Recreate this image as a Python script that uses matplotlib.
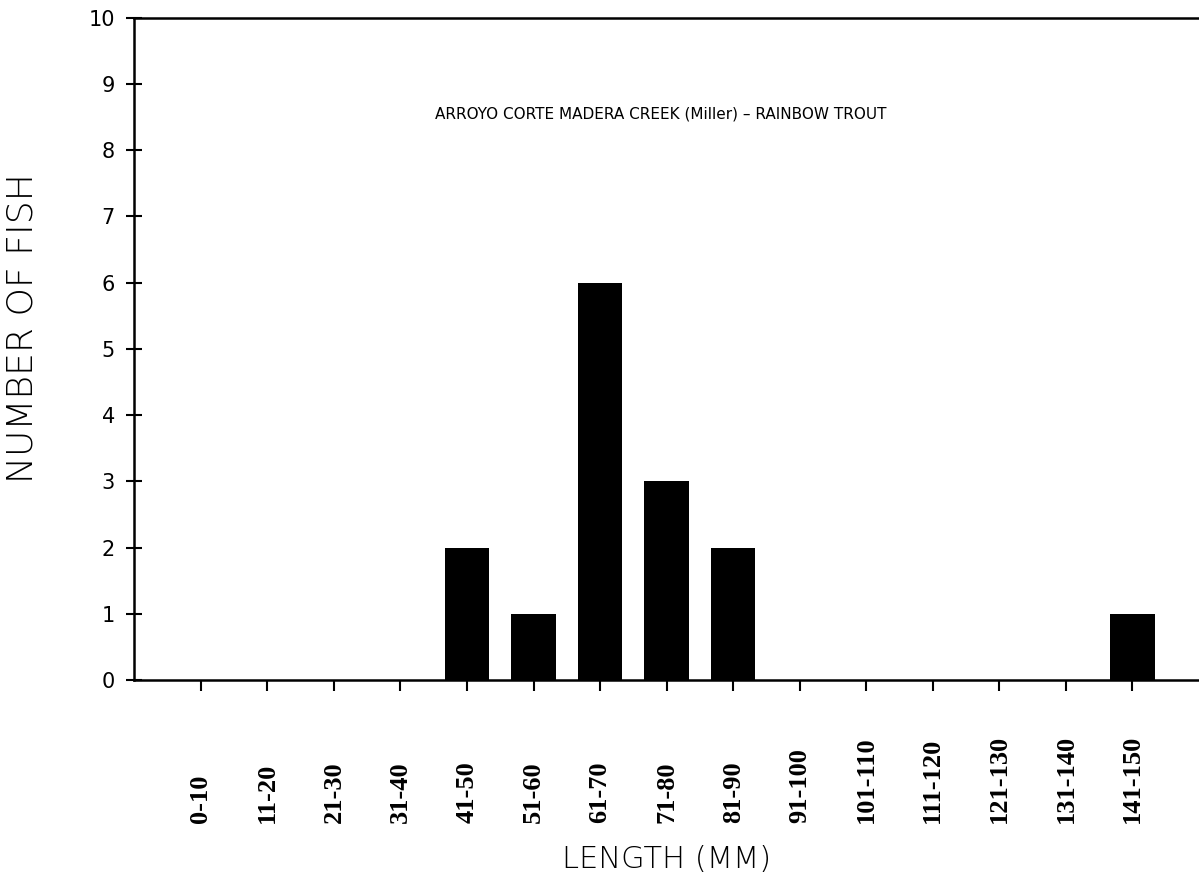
import numpy as np
import matplotlib
matplotlib.use("Agg")
import matplotlib.pyplot as plt

categories = ["0-10", "11-20", "21-30", "31-40", "41-50", "51-60", "61-70",
              "71-80", "81-90", "91-100", "101-110", "111-120", "121-130",
              "131-140", "141-150"]
counts = [0, 0, 0, 0, 2, 1, 6, 3, 2, 0, 0, 0, 0, 0, 1]

fig = plt.figure(figsize=(11.99, 8.88), dpi=100)
ax = fig.add_axes([0.112, 0.234, 0.888, 0.746])

x = np.arange(len(categories))
ax.bar(x, counts, width=0.67, color="black")

ax.set_xlim(-1, 15)
ax.set_ylim(0, 10)
ax.set_yticks(range(0, 11))
ax.set_xticks(x)
ax.set_xticklabels(categories, rotation=90, family="Liberation Serif",
                   fontweight="bold", fontsize=19)
for lab in ax.get_xticklabels():
    lab.set_va("bottom")

ax.tick_params(axis="x", direction="out", length=8, width=1.5, pad=95)
ax.tick_params(axis="y", direction="inout", length=12, width=1.5, pad=8,
               labelsize=15)
for lab in ax.get_yticklabels():
    lab.set_family("DejaVu Sans")

ax.spines["right"].set_visible(False)
for s in ["left", "top", "bottom"]:
    ax.spines[s].set_linewidth(1.8)

ax.text(0.494, 0.855, "ARROYO CORTE MADERA CREEK (Miller) \u2013 RAINBOW TROUT",
        transform=ax.transAxes, ha="center", va="center", fontsize=11,
        family="DejaVu Sans")

ax.set_ylabel("NUMBER OF FISH", fontsize=26, family="DejaVu Sans",
              fontweight="light")
ax.yaxis.label.set_va("center")
ax.yaxis.label.set_ha("center")
ax.yaxis.set_label_coords(-0.105, 0.532)
ax.set_xlabel("LENGTH (MM)", fontsize=22, family="DejaVu Sans",
              fontweight="light", labelpad=16)

fig.savefig("out.png", dpi=100)
